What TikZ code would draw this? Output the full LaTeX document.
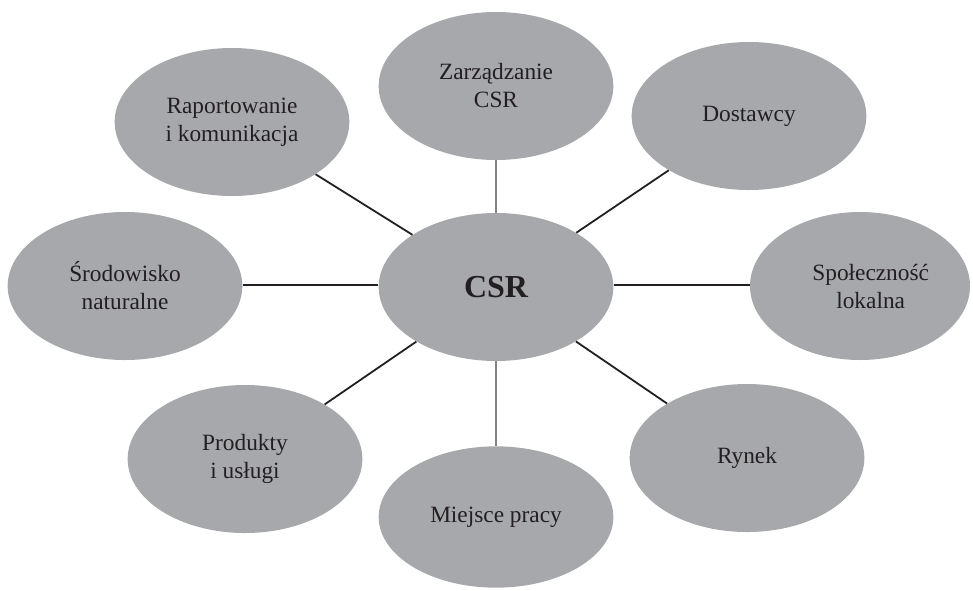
\documentclass[tikz,border=0pt]{standalone}
\usepackage{fontspec}
\setmainfont{Liberation Serif}
\usepackage{xcolor}
\definecolor{bubble}{RGB}{167,168,172}
\definecolor{ink}{RGB}{35,31,32}
\definecolor{stem}{RGB}{130,130,133}
\usepackage{tikz}
\usetikzlibrary{shapes.geometric}
\newcommand{\widthbubble}{176pt}
\newcommand{\heightbubble}{111pt}
\tikzset{
    topic/.style={ellipse, fill=bubble, text=ink, inner sep=0pt, align=center,
        minimum width=\widthbubble, minimum height=\heightbubble,
        font=\fontsize{17.5}{21}\selectfont},
    core/.style={topic, font=\fontsize{24}{28}\selectfont\bfseries},
    link/.style={draw=ink, line width=1.35pt},
    vlink/.style={draw=stem, line width=1.5pt}
}
\begin{document}
\begin{tikzpicture}[x=0.75pt, y=-0.75pt]
        \useasboundingbox (0,0) rectangle (973,590);

        \node[core] (csr) at (496,287) {CSR};
        \node[topic] (zarz) at (496,86) {Zarządzanie\\CSR};
        \node[topic] (dost) at (749,116) {Dostawcy};
        \node[topic] (rap) at (232,122) {Raportowanie\\i komunikacja};
        \node[topic] (srod) at (125,286) {Środowisko\\naturalne};
        \node[topic, minimum width=165pt] (spol) at (860,286) {\hspace*{16pt}Społeczność\\\hspace*{16pt}lokalna};
        \node[topic] (prod) at (245,459) {Produkty\\i usługi};
        \node[topic, minimum height=106pt] (miej) at (496,517) {Miejsce pracy};
        \node[topic] (rynek) at (747,458) {Rynek};

        \draw[vlink] (zarz) -- (csr) (csr) -- (miej);
        \draw[link] (rap) -- (csr) (dost) -- (csr);
        \draw[link] (srod.east |- 0,285) -- (csr.west |- 0,285)
                    (csr.east |- 0,285) -- (spol.west |- 0,285);
        \draw[link] (prod) -- (csr) (rynek) -- (csr);
    \end{tikzpicture}
\end{document}
